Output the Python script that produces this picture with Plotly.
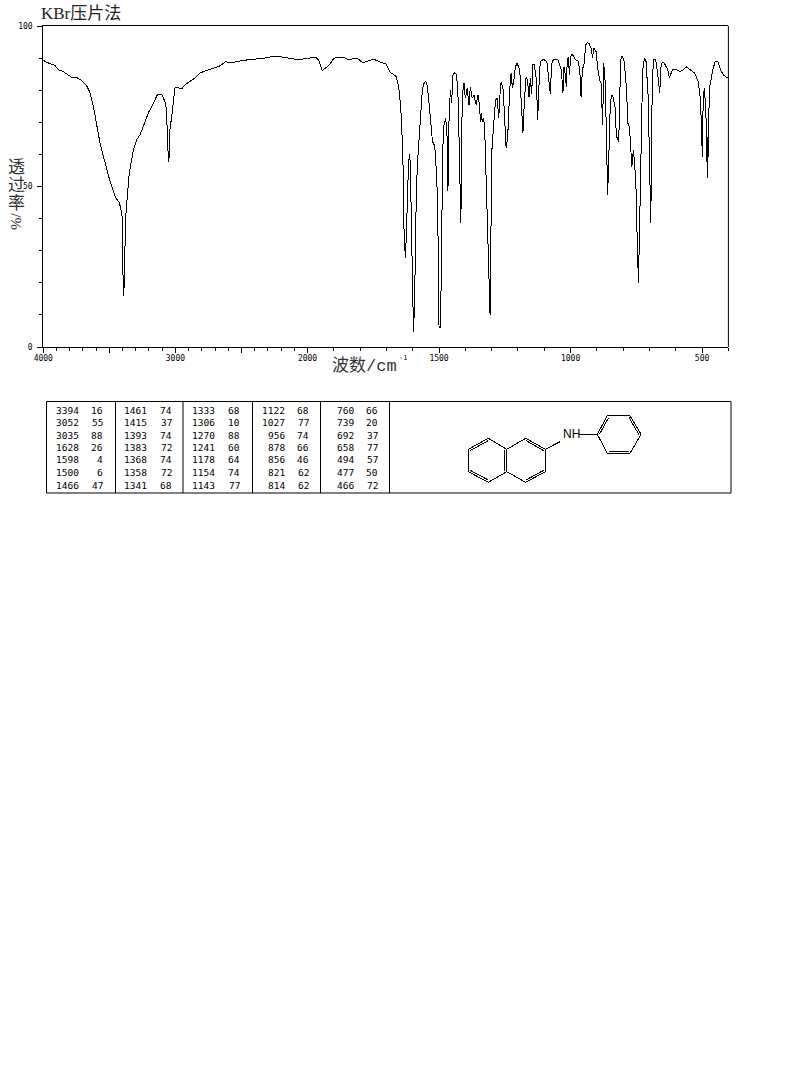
import plotly.graph_objects as go

W, H = 794, 1077

# Spectrum: wavenumber (cm-1) and transmittance (%)
wavenumber = [4000,3975,3912,3886,3849,3811,3785,3748,3710,3672,3647,3621,3596,3571,3545,3520,3495,3457,3424,3412,3404,3399,3394,3389,3384,3376,3364,3349,3331,3318,3293,3268,3243,3205,3167,3136,3104,3091,3073,3066,3058,3053,3046,3041,3028,3015,3003,2990,2952,2927,2889,2851,2813,2763,2712,2662,2624,2561,2485,2409,2308,2258,2157,2131,2056,2005,2000,
1970,1957,1944,1936,1919,1900,1881,1862,1843,1818,1806,1790,1774,1749,1723,1702,1693,1686,1664,1658,1652,1645,1639,1635,1633,1628,1624,1620,1616,1612,1609,1605,1601,1597,1593,1590,1586,1580,1572,1563,1557,1551,1544,1538,1532,1525,1516,1513,1509,1504,1500,1496,1492,1486,1481,1475,1470,1468,1466,1464,1460,1457,1452,1450,1447,1441,1433,1427,1420,1417,1413,1409,1405,1400,1393,1386,1381,1374,1367,1359,1352,1347,1342,1340,1336,1332,1327,1322,1317,1313,1309,1306,1303,1299,1292,1285,1279,1273,1266,1263,1256,1251,1245,1239,1235,1231,1226,1221,1216,1210,1203,1193,1188,1181,1176,1169,1164,1158,1153,1148,1143,1138,1130,1125,1121,1117,1112,1102,1090,1083,1077,1073,1070,1062,1052,
1048,1035,1029,1025,1023,1016,1013,1009,1004,1000,996,992,980,972,965,960,955,950,942,937,930,922,916,913,911,903,895,888,884,878,877,874,868,863,859,854,850,845,840,830,826,821,817,814,810,804,796,788,782,776,767,761,756,752,747,742,738,734,731,726,719,713,705,700,695,691,688,683,676,669,661,657,652,645,630,625,621,612,600,584,572,559,544,528,515,506,499,496,492,487,484,480,477,475,474,471,465,458,450,440,430,418,408,402,400]
transmittance = [89.3,88.7,87.7,86.4,85.8,84.7,84.0,84.0,83.0,81.4,79.3,75.0,69.3,63.6,59.4,55.2,51.6,46.9,44.9,42.8,40.7,28.2,15.8,18.4,32.4,40.7,46.9,54.2,58.4,61.5,64.6,66.1,68.7,72.9,76.0,78.6,78.8,77.3,75.8,71.9,64.6,57.8,59.4,67.7,71.9,77.0,80.7,81.0,80.4,81.7,82.8,83.8,85.4,86.2,86.9,87.6,88.8,88.7,89.3,89.7,90.1,90.6,90.2,89.8,89.6,89.9,89.9,
90.3,89.3,86.2,86.6,87.7,89.9,90.3,90.2,89.5,90.0,89.7,88.5,89.0,89.7,88.7,88.2,86.8,85.6,84.4,82.7,80.1,73.8,62.9,51.0,35.9,27.6,35.4,49.9,57.2,60.0,56.7,38.0,13.1,4.8,13.6,25.0,49.9,59.8,69.7,80.6,82.1,82.8,81.1,76.9,70.7,64.0,62.6,57.2,55.1,35.4,6.3,6.1,18.8,61.4,69.2,71.2,67.6,58.3,48.5,66.6,75.9,80.1,76.1,80.1,84.7,85.5,84.7,76.9,47.9,38.5,70.7,80.1,82.1,77.5,80.6,75.4,81.1,77.5,78.5,75.4,78.5,75.9,70.2,72.8,70.2,71.2,69.5,55.1,41.6,26.1,10.5,10.0,33.3,61.4,69.7,76.9,77.5,71.2,82.1,82.3,80.1,71.8,61.9,65.5,76.4,80.6,85.3,80.6,82.7,87.3,88.4,86.3,76.9,66.8,75.9,84.2,83.2,77.8,83.7,78.8,87.9,87.9,83.2,70.7,79.5,87.3,89.2,89.6,88.9,84.2,78.8,86.3,88.9,89.6,
89.7,89.4,86.3,79.2,87.3,87.1,81.1,88.4,90.4,84.7,90.4,91.0,91.0,89.4,89.2,86.3,77.8,86.8,87.3,94.1,94.9,94.6,93.0,89.9,93.0,93.0,92.0,85.8,82.7,82.1,69.2,82.1,88.4,82.1,62.4,47.4,60.9,72.8,78.5,78.5,74.4,65.5,65.0,64.0,72.8,89.4,90.7,88.9,81.1,69.7,68.4,56.2,61.4,57.2,52.0,34.4,20.0,35.4,56.2,74.9,86.3,89.9,88.9,78.0,54.1,38.5,72.8,85.3,89.6,89.4,85.3,79.0,86.8,88.6,88.6,86.3,84.0,84.7,86.3,86.5,85.8,86.3,87.3,86.3,85.3,82.7,76.9,59.3,76.4,80.6,75.9,68.6,52.5,67.6,59.3,73.8,81.1,83.7,86.8,88.9,88.9,86.3,84.7,84.0,83.9]

# Peak table, one list per column
peak_wn_1 = ["3394","3052","3035","1628","1598","1500","1466"]
peak_t_1 = ["16","55","88","26","4","6","47"]
peak_wn_2 = ["1461","1415","1393","1383","1368","1358","1341"]
peak_t_2 = ["74","37","74","72","74","72","68"]
peak_wn_3 = ["1333","1306","1270","1241","1178","1154","1143"]
peak_t_3 = ["68","10","88","60","64","74","77"]
peak_wn_4 = ["1122","1027","956","878","856","821","814"]
peak_t_4 = ["68","77","74","66","46","62","62"]
peak_wn_5 = ["760","739","692","658","494","477","466"]
peak_t_5 = ["66","20","37","77","57","50","72"]
peak_columns = [(peak_wn_1, peak_t_1), (peak_wn_2, peak_t_2), (peak_wn_3, peak_t_3), (peak_wn_4, peak_t_4), (peak_wn_5, peak_t_5)]

# Axis ticks
x_left_ticks = [4000, 3500, 3000, 2500, 2000]
x_left_labels = ["4000", "", "3000", "", "2000"]
x_right_ticks = [1500, 1000, 500]
x_right_labels = ["1500", "1000", "500"]
y_ticks = [0, 50, 100]
y_labels = ["0", "50", "100"]

# Texts
title_text = "KBr压片法"
x_title = "波数/cm"
x_title_sup = "-1"
y_title_chars = ["透", "过", "率"]
y_title_unit = "%/"

# Layout in page pixels
plot_l, plot_m, plot_r, plot_t, plot_b = 43.3, 307.5, 728.4, 26, 347
col_wn_right = [80.5, 148.5, 217.2, 286.5, 355.8]
col_t_right = [104.8, 173.8, 241.5, 310.8, 379.8]
row_y = [410.7, 422.6, 435, 447.3, 459.6, 472.3, 485]
table_box = (46.5, 401.5, 731, 493)
table_seps = [115.5, 183, 252.5, 320.5, 389.5]

# Structure drawing: bonds as page-pixel polylines
bonds = [
 [(468.3,449.3),(488.3,438.3),(506.7,449.3),(506.7,471.7),(488.3,482.3),(468.3,471.7),(468.3,449.3)],
 [(506.7,449.3),(525.7,438.3),(545.3,449.3),(545.3,471.7),(525.7,482.3),(506.7,471.7)],
 [(470.3,450.6),(488.3,440.6)], [(470.3,470.4),(488.3,480)], [(504.8,449.6),(504.8,471.4)],
 [(526,440.6),(543.5,450.6)], [(526,480),(543.5,470.4)],
 [(545.3,449.3),(560,441.7)], [(579,434.3),(597.3,434.3)],
 [(597.3,434.3),(607.3,415.7),(630,415.7),(641,434.3),(630,453.3),(607.3,453.3),(597.3,434.3)],
 [(599.6,434),(608.6,417.6)], [(629,417.6),(638.8,434.4)], [(608.6,451.6),(629,451.6)],
]
mol_x, mol_y = [], []
for b in bonds:
    mol_x += [p[0] for p in b] + [None]
    mol_y += [p[1] for p in b] + [None]

fig = go.Figure()
left = [(w, t) for w, t in zip(wavenumber, transmittance) if w >= 2000]
right = [(w, t) for w, t in zip(wavenumber, transmittance) if w <= 2000]
line = dict(color="black", width=1)
fig.add_trace(go.Scatter(x=[p[0] for p in left], y=[p[1] for p in left], mode="lines", line=line, xaxis="x", yaxis="y", showlegend=False))
fig.add_trace(go.Scatter(x=[p[0] for p in right], y=[p[1] for p in right], mode="lines", line=line, xaxis="x2", yaxis="y", showlegend=False))
fig.add_trace(go.Scatter(x=mol_x, y=mol_y, mode="lines", line=dict(color="black", width=1), xaxis="x3", yaxis="y3", showlegend=False, connectgaps=False))

mono = "DejaVu Sans Mono"
cjk = "Liberation Serif, Noto Sans CJK SC"
cjk_mono = "Liberation Mono, Noto Sans CJK SC"
tickfont = dict(family=mono, size=8, color="black")

def note(x, y, text, size, family=mono, anchor="center", color="black", angle=0):
    fig.add_annotation(x=x, y=y, xref="x3", yref="y3", text=text, showarrow=False, xanchor=anchor, yanchor="middle",
                       font=dict(family=family, size=size, color=color), textangle=angle)

note(39, 13.5, title_text, 17, cjk, "left", "#222222")
note(330, 366, x_title, 17, cjk_mono, "left", "#333333")
note(397, 358, x_title_sup, 7, mono, "left")
for ch, yy in zip(y_title_chars, [167, 185, 203]):
    note(16, yy, ch, 17, cjk, "center", "#333333")
note(16, 222, y_title_unit, 15, cjk, "center", "#333333", -90)

note(571, 434, "NH", 12, "Liberation Sans")

for (wn_col, t_col), xw, xt in zip(peak_columns, col_wn_right, col_t_right):
    for a, b, yy in zip(wn_col, t_col, row_y):
        note(xw, yy, a, 9.5, mono, "right")
        note(xt, yy, b, 9.5, mono, "right")

x0, y0, x1, y1 = table_box
fig.add_shape(type="rect", xref="x3", yref="y3", x0=x0, y0=y0, x1=x1, y1=y1, line=dict(color="black", width=1))
for s in table_seps:
    fig.add_shape(type="line", xref="x3", yref="y3", x0=s, x1=s, y0=y0, y1=y1, line=dict(color="black", width=1))
fig.add_shape(type="line", xref="x3", yref="y3", x0=plot_r, x1=plot_r, y0=plot_t, y1=plot_b, line=dict(color="black", width=1))

common_x = dict(showgrid=False, zeroline=False, showline=True, linecolor="black", linewidth=1, mirror=True, automargin=False,
                ticks="outside", ticklen=5, tickwidth=1, tickcolor="black", tickfont=tickfont, ticklabelstandoff=-2,
                minor=dict(dtick=100, tick0=0, ticks="outside", ticklen=3, tickwidth=1, tickcolor="black"))
fig.update_layout(
    template="none",
    width=W, height=H, margin=dict(l=0, r=0, t=0, b=0, pad=0), paper_bgcolor="white", plot_bgcolor="rgba(0,0,0,0)",
    showlegend=False,
    xaxis=dict(domain=[plot_l / W, plot_m / W], range=[4000, 2000], tickvals=x_left_ticks, ticktext=x_left_labels, anchor="y", **common_x),
    xaxis2=dict(domain=[plot_m / W, plot_r / W], range=[2000, 400], tickvals=x_right_ticks, ticktext=x_right_labels, anchor="y", **common_x),
    yaxis=dict(domain=[1 - plot_b / H, 1 - plot_t / H], range=[0, 100], tickvals=y_ticks, ticktext=y_labels, anchor="x", automargin=False,
               showgrid=False, zeroline=False, showline=True, linecolor="black", linewidth=1, ticks="outside", ticklen=5, ticklabelstandoff=3,
               tickcolor="black", tickfont=tickfont, minor=dict(dtick=10, tick0=0, ticks="outside", ticklen=3, tickcolor="black")),
    xaxis3=dict(domain=[0, 1], range=[0, W], visible=False, anchor="y3", fixedrange=True, automargin=False),
    yaxis3=dict(domain=[0, 1], range=[H, 0], visible=False, anchor="x3", fixedrange=True, automargin=False),
)

fig.write_html("out.html", config=dict(displayModeBar=False),
               post_script="document.body.style.margin='0';document.body.style.overflow='hidden';"
                           "document.querySelectorAll('.scatterlayer path').forEach(function(p){p.style.shapeRendering='crispEdges';});")
